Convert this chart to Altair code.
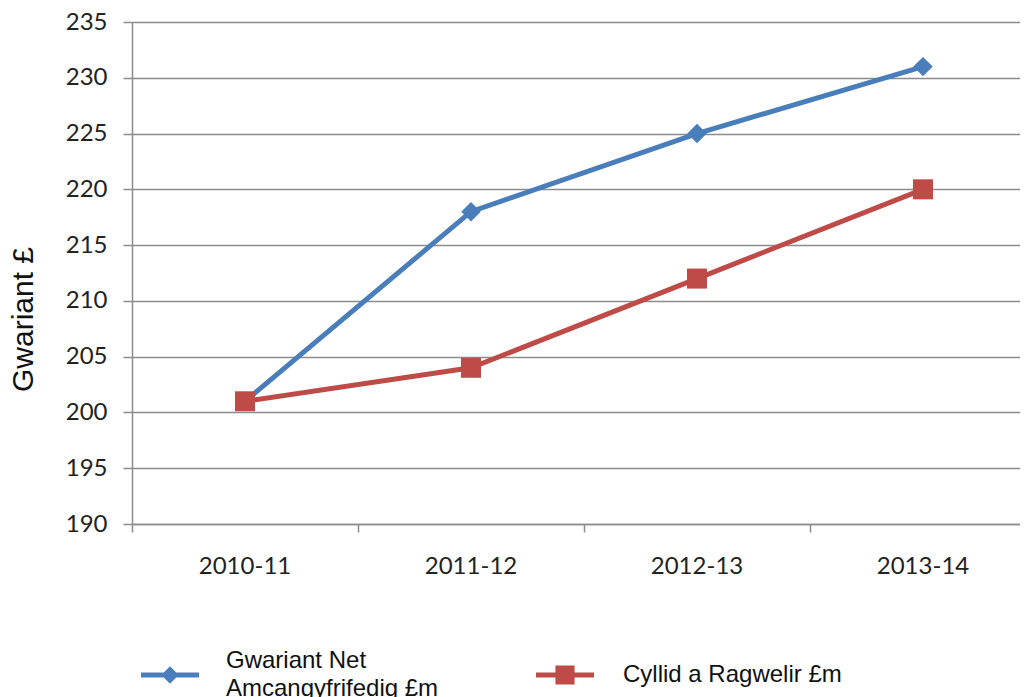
import altair as alt
import pandas as pd

categories = ["2010-11", "2011-12", "2012-13", "2013-14"]
series_names = ["Gwariant Net\nAmcangyfrifedig £m", "Cyllid a Ragwelir £m"]
net_spend = [201, 218, 225, 231]
budget = [201, 204, 212, 220]
y_ticks = [190, 195, 200, 205, 210, 215, 220, 225, 230, 235]
series_colors = ["#4A7EBB", "#BE4B48"]

rows = []
for c, v in zip(categories, net_spend):
    rows.append({"year": c, "series": series_names[0], "value": v})
for c, v in zip(categories, budget):
    rows.append({"year": c, "series": series_names[1], "value": v})
df = pd.DataFrame(rows)

# legend symbols: line with marker (filled geometry, same winding)
diamond_path = "M-1,-0.085L1,-0.085L1,0.085L-1,0.085Z M0,-0.3L0.3,0L0,0.3L-0.3,0Z"
square_path = "M-1,-0.085L1,-0.085L1,0.085L-1,0.085Z M-0.33,-0.33L0.33,-0.33L0.33,0.33L-0.33,0.33Z"

GRID = "#8C8C8C"
TICK_FONT = "Lato"
LEG_FONT = "Liberation Sans"

x_enc = alt.X(
    "year:N",
    sort=categories,
    bandPosition=0.5,
    scale=alt.Scale(type="band", paddingInner=0, paddingOuter=0, range=[0, 904]),
    axis=alt.Axis(
        title=None,
        bandPosition=0,
        grid=False,
        domain=True,
        domainColor=GRID,
        domainWidth=1.5,
        ticks=True,
        tickColor=GRID,
        tickSize=8,
        tickWidth=1.5,
        labelFont=TICK_FONT,
        labelFontSize=24,
        labelColor="#222222",
        labelPadding=22,
        labelAngle=0,
    ),
)

y_enc = alt.Y(
    "value:Q",
    scale=alt.Scale(domain=[190, 235], nice=False, zero=False),
    axis=alt.Axis(
        values=y_ticks,
        title="Gwariant £",
        titleFont="Liberation Sans",
        titleFontSize=30,
        titleFontWeight="normal",
        titleColor="#111111",
        titleX=-109,
        titleY=297,
        titleAngle=270,
        titleAlign="center",
        titleBaseline="middle",
        grid=True,
        gridColor=GRID,
        gridWidth=1.5,
        domain=True,
        domainColor=GRID,
        domainWidth=1.5,
        tickColor=GRID,
        tickSize=9,
        tickWidth=1.5,
        labelFont=TICK_FONT,
        labelFontSize=24,
        labelColor="#222222",
        labelPadding=16,
    ),
)

color_scale = alt.Scale(domain=series_names, range=series_colors)

base = alt.Chart(df)

lines = base.mark_line(strokeWidth=5).encode(
    x=x_enc,
    y=y_enc,
    color=alt.Color("series:N", scale=color_scale, legend=None),
    detail="series:N",
)

pts_blue = base.transform_filter(
    alt.datum.series == series_names[0]
).mark_point(shape="diamond", filled=True, size=380, opacity=1).encode(
    x=x_enc,
    y=y_enc,
    color=alt.Color("series:N", scale=color_scale, legend=None),
)

pts_red = base.transform_filter(
    alt.datum.series == series_names[1]
).mark_point(shape="square", filled=True, size=400, opacity=1).encode(
    x=x_enc,
    y=y_enc,
    color=alt.Color("series:N", scale=color_scale, legend=None),
)

legend_blue = alt.Legend(
    orient="none",
    legendX=9,
    legendY=624,
    direction="horizontal",
    title=None,
    values=[series_names[0]],
    symbolType=diamond_path,
    symbolSize=3364,
    symbolStrokeWidth=0,
    labelOffset=27,
    labelFont=LEG_FONT,
    labelFontSize=24,
    labelColor="#111111",
    labelLimit=400,
    labelBaseline="line-bottom",
    labelExpr="split(datum.label, '\\n')",
)

legend_red = alt.Legend(
    orient="none",
    legendX=404,
    legendY=624,
    direction="horizontal",
    title=None,
    values=[series_names[1]],
    symbolFillColor=series_colors[1],
    symbolSize=3364,
    symbolStrokeWidth=0,
    labelOffset=29,
    labelFont=LEG_FONT,
    labelFontSize=24,
    labelColor="#111111",
    labelLimit=400,
)

# invisible marks (size 0) that only carry the legends
legend_layer = base.mark_point(filled=True, opacity=1, size=0).encode(
    x=x_enc,
    y=y_enc,
    color=alt.Color("series:N", scale=color_scale, legend=legend_blue),
    shape=alt.Shape(
        "series:N",
        scale=alt.Scale(domain=[series_names[1], series_names[0]],
                        range=[square_path, diamond_path]),
        legend=legend_red,
    ),
)

chart = alt.layer(legend_layer, lines, pts_blue, pts_red).properties(
    width=888,
    height=502,
    autosize=alt.AutoSizeParams(type="none"),
    padding={"left": 124, "top": 14, "right": 0, "bottom": 173},
).configure_view(stroke=None).configure(
    background="white",
    style={"guide-label": {"lineHeight": 28}},
)

chart.save("out.html", embed_options={"renderer": "svg", "actions": False})
